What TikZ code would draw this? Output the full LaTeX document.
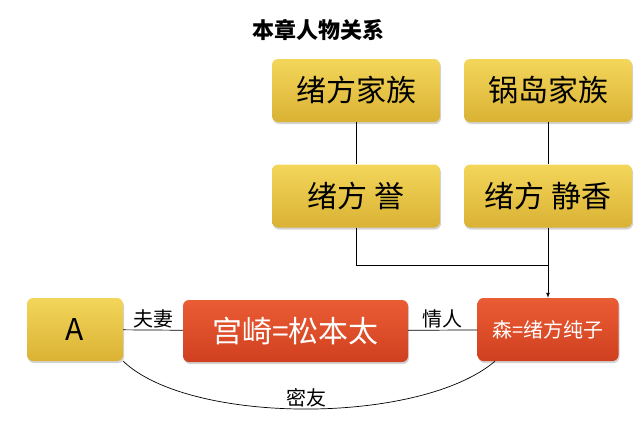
\documentclass[tikz,border=0pt]{standalone}
\usepackage{fontspec}
\setmainfont{Noto Sans CJK SC}
\usetikzlibrary{shadows}
\definecolor{goldtop}{RGB}{243,214,90}
\definecolor{goldbot}{RGB}{218,178,52}
\definecolor{redtop}{RGB}{234,92,52}
\definecolor{redbot}{RGB}{208,64,32}
\begin{document}
\begin{tikzpicture}[x=1pt,y=-1pt,>=latex]
        \tikzset{
            goldbox/.style={rounded corners=6pt,top color=goldtop,bottom color=goldbot,
                minimum height=63pt,inner sep=0pt,font=\fontsize{30}{30}\selectfont,
                drop shadow={opacity=0.35,shadow xshift=1pt,shadow yshift=-2pt}},
            redbox/.style={goldbox,top color=redtop,bottom color=redbot,text=white},
            rel/.style={font=\fontsize{20}{20}\selectfont,inner sep=2pt}
        }
        \useasboundingbox (0,0) rectangle (640,439);

        \node[font=\bfseries\fontsize{22}{22}\selectfont] (title) at (318,30) {本章人物关系};

        \node[goldbox,minimum width=168pt] (fam-o) at (356,90.5) {绪方家族};
        \node[goldbox,minimum width=168pt] (fam-g) at (548,90.5) {锅岛家族};
        \node[goldbox,minimum width=168pt] (homare) at (356,196) {绪方 誉};
        \node[goldbox,minimum width=168pt] (shizuka) at (548,196) {绪方 静香};

        \node[goldbox,minimum width=96pt] (a) at (75,329.5) {A};
        \node[redbox,minimum width=225pt,minimum height=62pt] (miya) at (295.5,331) {宫崎=松本太};
        \node[redbox,minimum width=141pt,font=\fontsize{20}{20}\selectfont] (mori) at (548,329.5) {森=绪方纯子};

        \coordinate (join) at (548,265);

        \draw[line width=0.7pt] (fam-o) -- (homare);
        \draw[line width=0.7pt] (fam-g) -- (shizuka);
        \draw[line width=0.7pt] (homare.south) |- (join);
        \draw[->,line width=0.7pt] (shizuka.south) -- (mori.north);

        \draw[line width=0.7pt] (a) -- node[rel,above] {夫妻} (miya);
        \draw[line width=0.7pt] (miya) -- node[rel,above] {情人} (mori);
        \draw[line width=0.7pt] (a.south east) .. controls (190,425) and (420,425)
            .. node[rel,above,pos=0.5] {密友} ([xshift=-53pt]mori.south);
    \end{tikzpicture}
\end{document}
